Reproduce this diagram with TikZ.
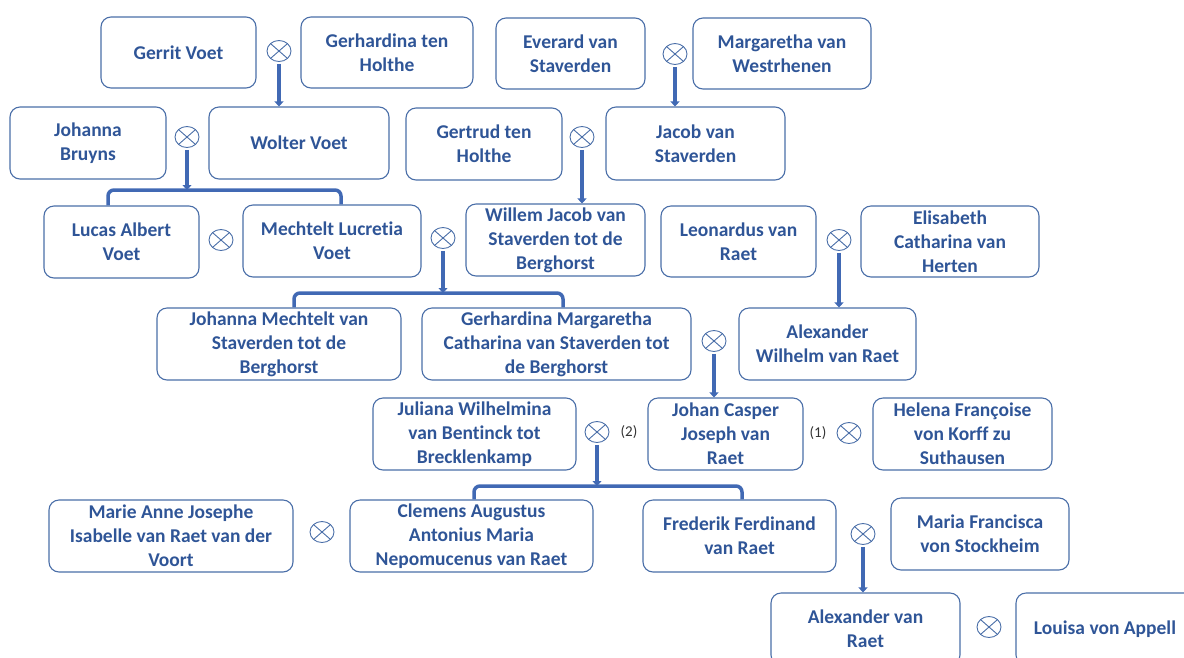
\documentclass[tikz,border=0pt]{standalone}
\usepackage{fontspec}
\setmainfont[Ligatures=NoCommon]{Carlito}
\usetikzlibrary{shapes.geometric,arrows.meta}
\definecolor{txt}{HTML}{2F5597}
\definecolor{brd}{HTML}{4A6EA8}
\definecolor{arr}{HTML}{4169B4}
\newcommand\pbox[6]{\node[person,minimum width={#4-#2},minimum height={#5-#3}] (#1) at ({(#2+#4)/2},{(#3+#5)/2}) {#6};}
\begin{document}
\begin{tikzpicture}[x=1pt,y=-1pt,
  person/.style={draw=brd, line width=1.1pt, rounded corners=10pt, text=txt,
    font=\bfseries\fontsize{19.5}{24}\selectfont, align=center, inner sep=0pt},
  xmark/.style={ellipse, draw=brd, line width=0.9pt, minimum width=24pt, minimum height=21pt, inner sep=0pt,
    path picture={\draw[brd, line width=0.9pt] (path picture bounding box.north west) -- (path picture bounding box.south east)
      (path picture bounding box.north east) -- (path picture bounding box.south west);}},
  conn/.style={draw=arr, line width=3.5pt},
  arrowc/.style={conn, shorten <=2pt, -{Triangle[length=5pt,width=9pt]}},
  bracketc/.style={conn, rounded corners=6pt},
  num/.style={font=\fontsize{15}{17}\selectfont, text=black!80}
]
\useasboundingbox (0,0) rectangle (1184,657);
\clip (0,0) rectangle (1184,657);

\pbox{gerrit}{101}{17}{256}{88}{Gerrit Voet}
\pbox{gerh}{301}{17}{473}{88}{Gerhardina ten\\Holthe}
\pbox{everard}{496}{18}{645}{89}{Everard van\\Staverden}
\pbox{marg}{693}{18}{871}{89}{Margaretha van\\Westrhenen}
\pbox{johb}{10}{107}{166}{179}{Johanna\\Bruyns}
\pbox{wolter}{209}{107}{389}{179}{Wolter Voet}
\pbox{gertrud}{406}{108}{562}{180}{Gertrud ten\\Holthe}
\pbox{jacob}{606}{107}{785}{180}{Jacob van\\Staverden}
\pbox{lucas}{44}{206}{199}{278}{Lucas Albert\\Voet}
\pbox{mech}{243}{205}{421}{277}{Mechtelt Lucretia\\Voet}
\pbox{willem}{466}{204}{645}{276}{Willem Jacob van\\Staverden tot de\\Berghorst}
\pbox{leon}{661}{206}{816}{277}{Leonardus van\\Raet}
\pbox{elis}{861}{206}{1039}{277}{Elisabeth\\Catharina van\\Herten}
\pbox{johm}{157}{308}{401}{380}{Johanna Mechtelt van\\Staverden tot de\\Berghorst}
\pbox{germ}{422}{308}{691}{380}{Gerhardina Margaretha\\Catharina van Staverden tot\\de Berghorst}
\pbox{alexw}{739}{308}{916}{380}{Alexander\\Wilhelm van Raet}
\pbox{juliana}{373}{398}{576}{470}{Juliana Wilhelmina\\van Bentinck tot\\Brecklenkamp}
\pbox{johan}{648}{398}{803}{470}{Johan Casper\\Joseph van\\Raet}
\pbox{helena}{873}{398}{1052}{470}{Helena Françoise\\von Korff zu\\Suthausen}
\pbox{marie}{49}{500}{293}{572}{Marie Anne Josephe\\Isabelle van Raet van der\\Voort}
\pbox{clemens}{350}{500}{593}{572}{Clemens Augustus\\Antonius Maria\\Nepomucenus van Raet}
\pbox{frederik}{643}{500}{836}{572}{Frederik Ferdinand\\van Raet}
\pbox{maria}{891}{498}{1069}{570}{Maria Francisca\\von Stockheim}
\pbox{alexr}{771}{593}{960}{665}{Alexander van\\Raet}
\pbox{louisa}{1016}{593}{1194}{665}{Louisa von Appell}

\node[xmark] (x1) at (279,51) {};
\node[xmark] (x2) at (675,54) {};
\node[xmark] (x3) at (187,137) {};
\node[xmark] (x4) at (582,137) {};
\node[xmark] (x5) at (221,240) {};
\node[xmark] (x6) at (443,238) {};
\node[xmark] (x7) at (839,240) {};
\node[xmark] (x8) at (714,341) {};
\node[xmark] (x9) at (597,432) {};
\node[xmark] (x10) at (849,433) {};
\node[xmark] (x11) at (322,532) {};
\node[xmark] (x12) at (863,534) {};
\node[xmark] (x13) at (989,627) {};

\node[num] (n2) at (629,432) {(2)};
\node[num] (n1) at (818,433) {(1)};

\draw[arrowc] (x1.south) -- (x1.south |- wolter.north);
\draw[arrowc] (x2.south) -- (x2.south |- jacob.north);
\draw[arrowc] (x4.south) -- (x4.south |- willem.north);
\draw[arrowc] (x7.south) -- (x7.south |- alexw.north);
\draw[arrowc] (x8.south) -- (x8.south |- johan.north);
\draw[arrowc] (x12.south) -- (x12.south |- alexr.north);

\coordinate (b1) at (187,190);
\coordinate (b1l) at (108,190);
\coordinate (b1r) at (341,190);
\draw[bracketc] (b1l |- lucas.north) -- (b1l) -- (b1r) -- (b1r |- mech.north);
\draw[arrowc] (x3.south) -- (b1);

\coordinate (b2) at (443,293);
\coordinate (b2l) at (294,293);
\coordinate (b2r) at (563,293);
\draw[bracketc] (b2l |- johm.north) -- (b2l) -- (b2r) -- (b2r |- germ.north);
\draw[arrowc] (x6.south) -- (b2);

\coordinate (b3) at (597,486);
\coordinate (b3l) at (474,486);
\coordinate (b3r) at (742,486);
\draw[bracketc] (b3l |- clemens.north) -- (b3l) -- (b3r) -- (b3r |- frederik.north);
\draw[arrowc] (x9.south) -- (b3);
\end{tikzpicture}
\end{document}
